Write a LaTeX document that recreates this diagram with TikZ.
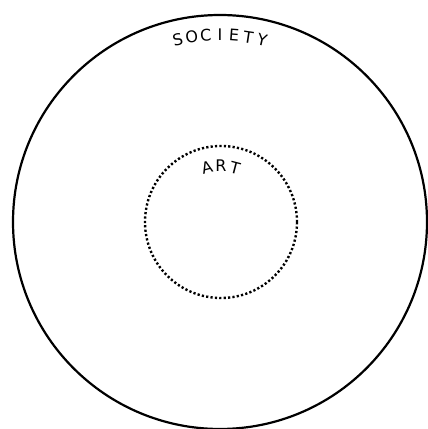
\documentclass[tikz,border=0pt]{standalone}
\usepackage{fontspec}
\setmainfont{DejaVu Sans}
\usetikzlibrary{positioning}

\begin{document}
\begin{tikzpicture}[
  x=1pt, y=1pt,
  ring/.style    = {circle, draw=black, line width=2.2pt, inner sep=0pt, minimum size=414pt},
  artring/.style = {circle, draw=black, line width=2.4pt, dash pattern=on 2.2pt off 2.2pt, inner sep=0pt, minimum size=152pt},
  ltr/.style     = {font=\fontsize{16}{16}\selectfont, inner sep=0pt, anchor=center},
]
\useasboundingbox (0,0) rectangle (428,429);
\coordinate (ctr) at (220,207);
\coordinate (artc) at (221,207);
% outer ring and dotted inner ring
\node[ring] (society) at (ctr) {};
\node[artring] (art) at (artc) {};
% curved labels, one letter at a time
\foreach \ch [count=\i from 0] in {S,O,C,I,E,T,Y}{
  \pgfmathsetmacro\ang{90 + (3-\i)*4.35}
  \node[ltr, rotate=\ang-90] (soc\i) at ([shift={(\ang:187pt)}]ctr) {\ch};
}
\foreach \ch [count=\i from 0] in {A,R,T}{
  \pgfmathsetmacro\ang{90 + (1-\i)*14.6}
  \node[ltr, rotate=\ang-90] (art\i) at ([shift={(\ang:56pt)}]artc) {\ch};
}
\end{tikzpicture}
\end{document}
